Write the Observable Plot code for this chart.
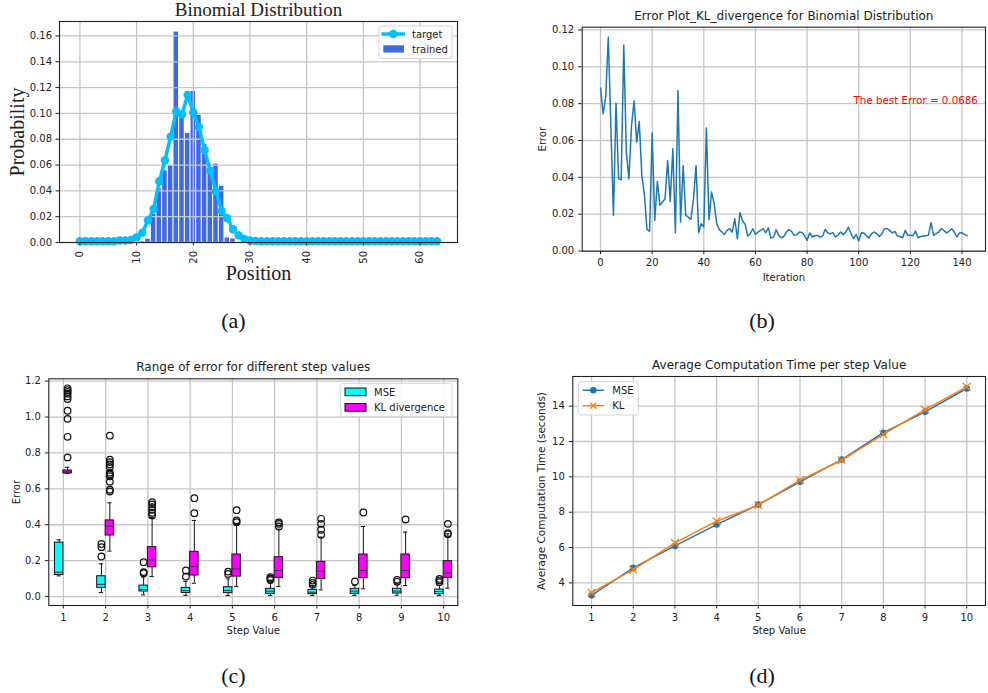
<!DOCTYPE html>
<html><head><meta charset="utf-8">
<script src="https://cdn.jsdelivr.net/npm/d3@7"></script>
<script src="https://cdn.jsdelivr.net/npm/@observablehq/plot@0.6"></script>
<style>
html,body{margin:0;padding:0;background:#fff;}
#root{position:relative;width:988px;height:693px;overflow:hidden;background:#fff;}
.panel{position:absolute;}
#overlay{position:absolute;left:0;top:0;pointer-events:none;}
</style></head><body>
<div id="root"></div>
<script>
// ---------------- DATA ----------------
// (a) Binomial distribution: positions 0..63
const positions = d3.range(64);
const targetProb = [
  0.001,0.001,0.001,0.001,0.001,0.001,0.001,0.0015,0.0015,0.002,
  0.004,0.0075,0.017,0.026,0.0475,0.0637,0.082,0.1015,0.0992,0.1143,
  0.1007,0.0894,0.0716,0.0556,0.0396,0.0245,0.0188,0.0103,0.0055,0.0028,
  0.0015,0.0012,0.001,0.001,0.001,0.001,0.001,0.001,0.001,0.001,
  0.001,0.001,0.001,0.001,0.001,0.001,0.001,0.001,0.001,0.001,
  0.001,0.001,0.001,0.001,0.001,0.001,0.001,0.001,0.001,0.001,
  0.001,0.001,0.001,0.001
];
const trainedProb = [
  0,0,0,0,0,0,0,0,0,0,
  0,0.0005,0.0025,0.022,0.0415,0.0555,0.0595,0.163,0.098,0.0845,
  0.117,0.0985,0.076,0.057,0.0607,0.0435,0.0035,0.0027,0,0,
  0,0,0,0,0,0,0,0,0,0,
  0,0,0,0,0,0,0,0,0,0,
  0,0,0,0,0,0,0,0,0,0,
  0,0,0,0
];
const xTicksA = [0,10,20,30,40,50,60];
const yTicksA = [0,0.02,0.04,0.06,0.08,0.10,0.12,0.14,0.16];

// (b) KL divergence error per iteration (0..142)
const iterError = [
  0.0885,0.0744,0.0835,0.116,0.068,0.0193,0.0802,0.0392,0.0387,0.1118,
  0.0537,0.0392,0.0681,0.0815,0.0591,0.0703,0.041,0.0302,0.0117,0.0107,
  0.0641,0.0166,0.0378,0.0248,0.0266,0.0284,0.0491,0.0269,0.0555,0.0099,
  0.0871,0.0157,0.0464,0.0193,0.0184,0.0172,0.028,0.0464,0.0099,0.0148,
  0.013,0.0668,0.017,0.032,0.0257,0.0148,0.0116,0.0103,0.009,0.0112,
  0.0121,0.0103,0.0175,0.0067,0.0208,0.0163,0.0145,0.0081,0.0094,0.0121,
  0.009,0.0103,0.0112,0.0121,0.0098,0.0126,0.007,0.0076,0.0116,0.0085,
  0.0072,0.0079,0.0103,0.0116,0.0107,0.0085,0.0089,0.0103,0.0101,0.0085,
  0.0058,0.0098,0.0076,0.0083,0.0085,0.0076,0.0081,0.0117,0.0099,0.0094,
  0.0099,0.0076,0.0087,0.0103,0.0089,0.0103,0.013,0.0094,0.0067,0.009,
  0.0054,0.0099,0.0098,0.0081,0.007,0.0094,0.0103,0.0094,0.0079,0.0094,
  0.0121,0.0121,0.0112,0.0098,0.0107,0.0081,0.0079,0.0072,0.0112,0.0085,
  0.0085,0.0083,0.0108,0.0072,0.0079,0.0081,0.0083,0.0085,0.0154,0.0085,
  0.0094,0.0103,0.0121,0.0112,0.0098,0.0107,0.0121,0.0103,0.0076,0.0098,
  0.0099,0.0089,0.0083
];
const xTicksB = [0,20,40,60,80,100,120,140];
const yTicksB = [0,0.02,0.04,0.06,0.08,0.10,0.12];
const bestErrorLabel = "The best Error = 0.0686";
const bestErrorPos = {x: 98, y: 0.08};

// (c) Box-plot summaries per step value
const steps = [1,2,3,4,5,6,7,8,9,10];
const mseMin = [0.115,0.022,0.009,0.006,0.006,0.006,0.006,0.006,0.007,0.006];
const mseQ1  = [0.12,0.048,0.028,0.02,0.019,0.015,0.013,0.015,0.017,0.013];
const mseMed = [0.135,0.068,0.039,0.033,0.033,0.03,0.024,0.03,0.03,0.028];
const mseQ3  = [0.30,0.113,0.061,0.048,0.052,0.043,0.037,0.043,0.043,0.039];
const mseMax = [0.316,0.182,0.108,0.084,0.098,0.076,0.061,0.061,0.071,0.061];
const mseOut = [[],[0.293,0.275,0.223],[0.191,0.136,0.130],[0.145,0.111],[0.139,0.126],
  [0.108,0.100,0.092],[0.089,0.076,0.065],[0.084],[0.093,0.082],[0.098,0.089,0.080]];
const klMin = [0.685,0.253,0.111,0.074,0.056,0.056,0.037,0.043,0.061,0.046];
const klQ1  = [0.686,0.34,0.163,0.117,0.111,0.104,0.098,0.102,0.102,0.104];
const klMed = [0.695,0.392,0.204,0.167,0.154,0.145,0.141,0.145,0.145,0.132];
const klQ3  = [0.702,0.424,0.275,0.249,0.234,0.219,0.193,0.234,0.234,0.197];
const klMax = [0.72,0.522,0.44,0.424,0.401,0.375,0.331,0.39,0.359,0.349];
const klOut = [[1.16,1.15,1.14,1.13,1.115,1.10,1.035,0.99,0.89,0.775],
  [0.896,0.762,0.749,0.736,0.72,0.69,0.68,0.67,0.64,0.595,0.585],
  [0.526,0.513,0.498,0.483,0.466,0.452],[0.548,0.464],[0.481,0.424,0.414],
  [0.413,0.405,0.39],[0.433,0.405,0.372,0.344],[0.468],[0.429],[0.405,0.353,0.347]];
const yTicksC = [0,0.2,0.4,0.6,0.8,1.0,1.2];

// (d) Average computation time per step value
const mseTime = [3.30,4.85,6.09,7.30,8.43,9.72,10.98,12.50,13.68,15.00];
const klTime  = [3.45,4.75,6.26,7.49,8.40,9.81,10.94,12.40,13.81,15.09];
const yTicksD = [4,6,8,10,12,14];

// ---------------- STYLE ----------------
const SANS = "DejaVu Sans";
const SERIF = "Liberation Serif";
const GRID = {stroke: "#c6c6c6", strokeOpacity: 1, strokeWidth: 1.3};
const FRAME = {stroke: "#222", strokeWidth: 1.1};
const C0 = "#1f77b4", C1 = "#ff7f0e";
const baseStyle = {fontFamily: SANS, fontSize: "10px", color: "#222", background: "transparent", overflow: "visible"};
const root = document.getElementById("root");
function place(svg, left, top) {
  const d = document.createElement("div");
  d.className = "panel";
  d.style.left = left + "px"; d.style.top = top + "px";
  d.appendChild(svg); root.appendChild(d);
}
const ttl = (s, dy, opts = {}) => Plot.text([s], {text: d => d, frameAnchor: "top", textAnchor: "middle", dy, lineAnchor: "bottom", fontSize: 12, ...opts});
const xlab = (s, dy, opts = {}) => Plot.text([s], {text: d => d, frameAnchor: "bottom", textAnchor: "middle", dy, lineAnchor: "bottom", fontSize: 10, ...opts});
const ylab = (s, dx, opts = {}) => Plot.text([s], {text: d => d, frameAnchor: "left", textAnchor: "middle", lineAnchor: "middle", dx, rotate: -90, fontSize: 10, ...opts});

// ---------------- (a) ----------------
const distData = positions.map((p, i) => ({pos: p, target: targetProb[i], trained: trainedProb[i]}));
const plotA = Plot.plot({
  width: 470, height: 290, marginLeft: 59, marginRight: 13, marginTop: 21, marginBottom: 48,
  style: baseStyle,
  x: {domain: [-3.6, 66.6]},
  y: {domain: [0, 0.1712]},
  marks: [
    Plot.rect(distData.filter(d => d.trained > 0), {x1: d => d.pos - 0.4, x2: d => d.pos + 0.4, y1: 0, y2: "trained", fill: "#4169E1"}),
    Plot.gridX({ticks: xTicksA, ...GRID}),
    Plot.gridY({ticks: yTicksA, ...GRID}),
    Plot.line(distData, {x: "pos", y: "target", stroke: "#00BFFF", strokeWidth: 3.5}),
    Plot.dot(distData, {x: "pos", y: "target", fill: "#00BFFF", r: 4.2}),
    Plot.frame(FRAME),
    Plot.axisX({ticks: xTicksA, tickRotate: -90, tickSize: 3.5, tickPadding: 5, label: null}),
    Plot.axisY({ticks: yTicksA, tickSize: 3.5, tickPadding: 4, tickFormat: d3.format(".2f"), label: null}),
    ttl("Binomial Distribution", -6, {fontFamily: SERIF, fontSize: 19}),
    xlab("Position", 37, {fontFamily: SERIF, fontSize: 20}),
    ylab("Probability", -42, {fontFamily: SERIF, fontSize: 20})
  ]
});
place(plotA, 0, 0);

// ---------------- (b) ----------------
const iterData = iterError.map((e, i) => ({iter: i, err: e}));
const plotB = Plot.plot({
  width: 488, height: 290, marginLeft: 81.7, marginRight: 3, marginTop: 26.7, marginBottom: 39.3,
  style: baseStyle,
  x: {domain: [-7.1, 149.1]},
  y: {domain: [-0.0001, 0.1215]},
  marks: [
    Plot.gridX({ticks: xTicksB, ...GRID}),
    Plot.gridY({ticks: yTicksB, ...GRID}),
    Plot.line(iterData, {x: "iter", y: "err", stroke: C0, strokeWidth: 1.5}),
    Plot.text([bestErrorPos], {x: "x", y: "y", text: () => bestErrorLabel, fill: "#ff0000", textAnchor: "start", lineAnchor: "bottom", fontSize: 10.3}),
    Plot.frame(FRAME),
    Plot.axisX({ticks: xTicksB, tickSize: 3.5, tickPadding: 4.5, label: null}),
    Plot.axisY({ticks: yTicksB, tickSize: 3.5, tickPadding: 4.5, tickFormat: d3.format(".2f"), label: null}),
    ttl("Error Plot_KL_divergence for Binomial Distribution", -7.7),
    xlab("Iteration", 30),
    ylab("Error", -39.7)
  ]
});
place(plotB, 500, 0);

// ---------------- (c) ----------------
function boxRows(mn, q1, md, q3, mx, off) {
  return steps.map((s, i) => ({step: s, c: s + off, min: mn[i], q1: q1[i], med: md[i], q3: q3[i], max: mx[i]}));
}
const mseBoxes = boxRows(mseMin, mseQ1, mseMed, mseQ3, mseMax, -0.1);
const klBoxes = boxRows(klMin, klQ1, klMed, klQ3, klMax, 0.1);
const outRows = (outs, off) => steps.flatMap((s, i) => outs[i].map(v => ({c: s + off, v})));
const mseOutRows = outRows(mseOut, -0.1);
const klOutRows = outRows(klOut, 0.1);
function boxMarks(rows, outs, fill) {
  const hw = 0.1, cw = 0.05;
  return [
    Plot.ruleX(rows, {x: "c", y1: "q3", y2: "max", stroke: "#111", strokeWidth: 1}),
    Plot.ruleX(rows, {x: "c", y1: "min", y2: "q1", stroke: "#111", strokeWidth: 1}),
    Plot.ruleY(rows, {y: "max", x1: d => d.c - cw, x2: d => d.c + cw, stroke: "#111", strokeWidth: 1}),
    Plot.ruleY(rows, {y: "min", x1: d => d.c - cw, x2: d => d.c + cw, stroke: "#111", strokeWidth: 1}),
    Plot.rect(rows, {x1: d => d.c - hw, x2: d => d.c + hw, y1: "q1", y2: "q3", fill, stroke: "#111", strokeWidth: 1}),
    Plot.ruleY(rows, {y: "med", x1: d => d.c - hw, x2: d => d.c + hw, stroke: "#333", strokeWidth: 1}),
    Plot.dot(outs, {x: "c", y: "v", r: 3.3, stroke: "#111", strokeWidth: 1.2, fill: "none"})
  ];
}
const plotC = Plot.plot({
  width: 480, height: 300, marginLeft: 48.3, marginRight: 22.7, marginTop: 28.3, marginBottom: 45,
  style: baseStyle,
  x: {domain: [0.655, 10.335]},
  y: {domain: [-0.05, 1.213]},
  marks: [
    Plot.gridX({ticks: steps, ...GRID}),
    Plot.gridY({ticks: yTicksC, ...GRID}),
    ...boxMarks(mseBoxes, mseOutRows, "#00FFFF"),
    ...boxMarks(klBoxes, klOutRows, "#FF00FF"),
    Plot.frame(FRAME),
    Plot.axisX({ticks: steps, tickSize: 3.5, tickPadding: 4.5, label: null}),
    Plot.axisY({ticks: yTicksC, tickSize: 3.5, tickPadding: 4.5, tickFormat: d3.format(".1f"), label: null}),
    ttl("Range of error for different step values", -8.3),
    xlab("Step Value", 28.7),
    ylab("Error", -32.3)
  ]
});
place(plotC, 0, 350);

// ---------------- (d) ----------------
const timeData = steps.map((s, i) => ({step: s, mse: mseTime[i], kl: klTime[i]}));
const plotD = Plot.plot({
  width: 478, height: 300, marginLeft: 62.3, marginRight: 3, marginTop: 26, marginBottom: 45,
  style: baseStyle,
  x: {domain: [0.55, 10.45]},
  y: {domain: [2.72, 15.68]},
  marks: [
    Plot.gridX({ticks: steps, ...GRID}),
    Plot.gridY({ticks: yTicksD, ...GRID}),
    Plot.line(timeData, {x: "step", y: "mse", stroke: C0, strokeWidth: 1.5}),
    Plot.dot(timeData, {x: "step", y: "mse", fill: C0, r: 3.3}),
    Plot.line(timeData, {x: "step", y: "kl", stroke: C1, strokeWidth: 1.5}),
    Plot.dot(timeData, {x: "step", y: "kl", symbol: "times", stroke: C1, strokeWidth: 1.3, r: 3.6}),
    Plot.frame(FRAME),
    Plot.axisX({ticks: steps, tickSize: 3.5, tickPadding: 4.5, label: null}),
    Plot.axisY({ticks: yTicksD, tickSize: 3.5, tickPadding: 4.5, tickFormat: d3.format("d"), label: null}),
    ttl("Average Computation Time per step Value", -8),
    xlab("Step Value", 28.7),
    ylab("Average Computation Time (seconds)", -31, {fontSize: 10.5})
  ]
});
place(plotD, 510, 350);

// ---------------- legends and captions (overlay) ----------------
const ov = d3.create("svg").attr("id", "overlay").attr("width", 988).attr("height", 693)
  .style("font-family", SANS).style("font-size", "10px");
function legendBox(x, y, w, h) {
  ov.append("rect").attr("x", x).attr("y", y).attr("width", w).attr("height", h)
    .attr("rx", 2.5).attr("fill", "white").attr("fill-opacity", 0.85).attr("stroke", "#d5d5d5");
}
function legendText(x, y, s) {
  ov.append("text").attr("x", x).attr("y", y).attr("dy", "0.35em").attr("fill", "#222").text(s);
}
// (a)
legendBox(379, 26, 73, 32.5);
ov.append("line").attr("x1", 381.5).attr("x2", 405).attr("y1", 34).attr("y2", 34).attr("stroke", "#00BFFF").attr("stroke-width", 3.5);
ov.append("circle").attr("cx", 393.3).attr("cy", 34).attr("r", 4.2).attr("fill", "#00BFFF");
legendText(412, 34, "target");
ov.append("rect").attr("x", 383.3).attr("y", 45.3).attr("width", 20.7).attr("height", 7.3).attr("fill", "#4169E1");
legendText(412, 49, "trained");
// (c)
legendBox(340.7, 383.3, 111.3, 33.4);
ov.append("rect").attr("x", 345).attr("y", 388).attr("width", 21).attr("height", 7.7).attr("fill", "#00FFFF").attr("stroke", "#111");
legendText(374, 392, "MSE");
ov.append("rect").attr("x", 345).attr("y", 403.5).attr("width", 21).attr("height", 7.7).attr("fill", "#FF00FF").attr("stroke", "#111");
legendText(374, 407.3, "KL divergence");
// (d)
legendBox(578.3, 381.7, 60, 33.3);
ov.append("line").attr("x1", 582.7).attr("x2", 604).attr("y1", 390.3).attr("y2", 390.3).attr("stroke", C0).attr("stroke-width", 1.5);
ov.append("circle").attr("cx", 593.3).attr("cy", 390.3).attr("r", 3.3).attr("fill", C0);
legendText(612.3, 390.3, "MSE");
ov.append("line").attr("x1", 582.7).attr("x2", 604).attr("y1", 405.7).attr("y2", 405.7).attr("stroke", C1).attr("stroke-width", 1.5);
ov.append("path").attr("d", "M590.3,402.7L596.3,408.7M590.3,408.7L596.3,402.7").attr("stroke", C1).attr("stroke-width", 1.3);
legendText(612.3, 405.7, "KL");
// captions
const captions = [["(a)", 233.5, 320], ["(b)", 762, 320], ["(c)", 233.5, 675], ["(d)", 762, 675]];
for (const [s, x, y] of captions) {
  ov.append("text").attr("x", x).attr("y", y).attr("dy", "0.35em").attr("text-anchor", "middle")
    .attr("font-family", SERIF).attr("font-size", 22).attr("fill", "#111").text(s);
}
root.appendChild(ov.node());
</script>
</body></html>
